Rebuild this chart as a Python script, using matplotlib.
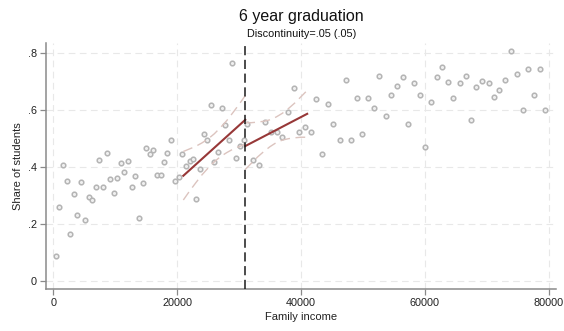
import matplotlib
matplotlib.use("Agg")
import matplotlib.pyplot as plt

plt.rcParams['font.family'] = ['Liberation Sans', 'DejaVu Sans']

# Binned means of the outcome by family income
income_bins = [435, 970, 1565, 2160, 2740, 3290, 3870, 4470, 5110, 5710, 6240, 6840,
               7370, 8020, 8610, 9150, 9740, 10320, 10870, 11450, 12050, 12690, 13230,
               13770, 14420, 14950, 15600, 16130, 16730, 17320, 17850, 18390, 19030,
               19680, 20320, 20810, 21450, 22050, 22530, 23070, 23660, 24260, 24900,
               25480, 26030, 26670, 27210, 27740, 28390, 28930, 29580, 30110, 30760,
               31350, 32320, 33290, 34190, 35230, 36080, 37000, 37970, 38870, 39740,
               40680, 41680, 42500, 43340, 44420, 45230, 46290, 47190, 48060, 49030,
               49900, 50870, 51730, 52640, 53660, 54570, 55480, 56400, 57260, 58230,
               59150, 60060, 60970, 61940, 62800, 63710, 64630, 65600, 66610, 67480,
               68340, 69310, 70320, 71190, 72050, 73020, 73930, 74840, 75810, 76680,
               77580, 78550, 79420]
share_grad = [0.090, 0.262, 0.406, 0.351, 0.166, 0.306, 0.234, 0.348, 0.216, 0.294, 0.284,
              0.332, 0.425, 0.332, 0.448, 0.357, 0.311, 0.362, 0.415, 0.382, 0.421, 0.332,
              0.369, 0.221, 0.343, 0.467, 0.445, 0.460, 0.371, 0.372, 0.418, 0.448, 0.497,
              0.350, 0.364, 0.446, 0.404, 0.420, 0.429, 0.288, 0.392, 0.516, 0.497, 0.617,
              0.417, 0.453, 0.606, 0.548, 0.497, 0.765, 0.433, 0.474, 0.497, 0.553, 0.426,
              0.408, 0.557, 0.522, 0.522, 0.506, 0.592, 0.677, 0.524, 0.542, 0.524, 0.638,
              0.446, 0.622, 0.551, 0.497, 0.706, 0.497, 0.641, 0.516, 0.643, 0.608, 0.720,
              0.580, 0.652, 0.686, 0.715, 0.552, 0.695, 0.653, 0.471, 0.628, 0.715, 0.751,
              0.699, 0.643, 0.695, 0.719, 0.565, 0.681, 0.703, 0.694, 0.645, 0.671, 0.707,
              0.808, 0.727, 0.602, 0.745, 0.652, 0.745, 0.602]

cutoff = 31000

# Local linear fits on each side of the cutoff
fit_left_x = [21000, 31000]
fit_left_y = [0.370, 0.566]
fit_right_x = [31000, 41000]
fit_right_y = [0.474, 0.587]

# 95% confidence bands
band_left_x = [21000, 22000, 23000, 24000, 25000, 26000, 27000, 28000, 29000, 30000, 31000]
band_left_hi = [0.455, 0.464, 0.473, 0.485, 0.499, 0.517, 0.539, 0.563, 0.591, 0.620, 0.651]
band_left_lo = [0.285, 0.316, 0.345, 0.373, 0.397, 0.419, 0.437, 0.451, 0.463, 0.472, 0.481]
band_right_x = [31000, 32000, 33000, 34000, 35000, 36000, 37000, 38000, 39000, 40000, 41000]
band_right_hi = [0.556, 0.556, 0.558, 0.561, 0.566, 0.576, 0.589, 0.606, 0.625, 0.647, 0.669]
band_right_lo = [0.392, 0.414, 0.436, 0.455, 0.472, 0.486, 0.495, 0.500, 0.503, 0.505, 0.505]

x_ticks = [0, 20000, 40000, 60000, 80000]
y_ticks = [0, 0.2, 0.4, 0.6, 0.8]
y_tick_labels = ['0', '.2', '.4', '.6', '.8']

fig = plt.figure(figsize=(5.64, 3.31), dpi=100)
ax = fig.add_axes([0.081, 0.126, 0.905, 0.743])

grid_kw = dict(color='#e8e8e8', lw=0.8, ls=(0, (6, 4)), zorder=0)
for yv in y_ticks:
    ax.axhline(yv, **grid_kw)
for xv in x_ticks:
    ax.axvline(xv, **grid_kw)

ax.scatter(income_bins, share_grad, s=11, facecolors='#f0f0f0', edgecolors='#b4b4b4',
           linewidths=1.1, zorder=2)

band_kw = dict(color='#dcc4bf', lw=1.0, ls=(0, (7, 4)), zorder=3)
ax.plot(band_left_x, band_left_hi, **band_kw)
ax.plot(band_left_x, band_left_lo, **band_kw)
ax.plot(band_right_x, band_right_hi, **band_kw)
ax.plot(band_right_x, band_right_lo, **band_kw)

ax.plot(fit_left_x, fit_left_y, color='#973838', lw=1.5, zorder=4)
ax.plot(fit_right_x, fit_right_y, color='#973838', lw=1.5, zorder=4)

ax.axvline(cutoff, color='#1a1a1a', lw=1.1, ls=(0, (6, 3)), zorder=5)

ax.set_xlim(-1230, 81200)
ax.set_ylim(-0.028, 0.834)
ax.set_xticks(x_ticks)
ax.set_xticklabels([str(v) for v in x_ticks])
ax.set_yticks(y_ticks)
ax.set_yticklabels(y_tick_labels)

for side in ['top', 'right']:
    ax.spines[side].set_visible(False)
for side in ['left', 'bottom']:
    ax.spines[side].set_color('#8a8a8a')
    ax.spines[side].set_linewidth(1.1)
ax.tick_params(axis='both', colors='#8a8a8a', length=4, width=0.9,
               labelsize=7.8, labelcolor='#222222', pad=2.5)

ax.set_xlabel('Family income', fontsize=8, color='#222222', labelpad=3)
ax.set_ylabel('Share of students', fontsize=8, color='#222222', labelpad=3)

fig.text(0.535, 0.950, '6 year graduation', ha='center', va='center',
         fontsize=11.5, color='#111111')
fig.text(0.535, 0.896, 'Discontinuity=.05 (.05)', ha='center', va='center',
         fontsize=7.8, color='#111111')

fig.savefig('out.png', dpi=100, facecolor='white')
